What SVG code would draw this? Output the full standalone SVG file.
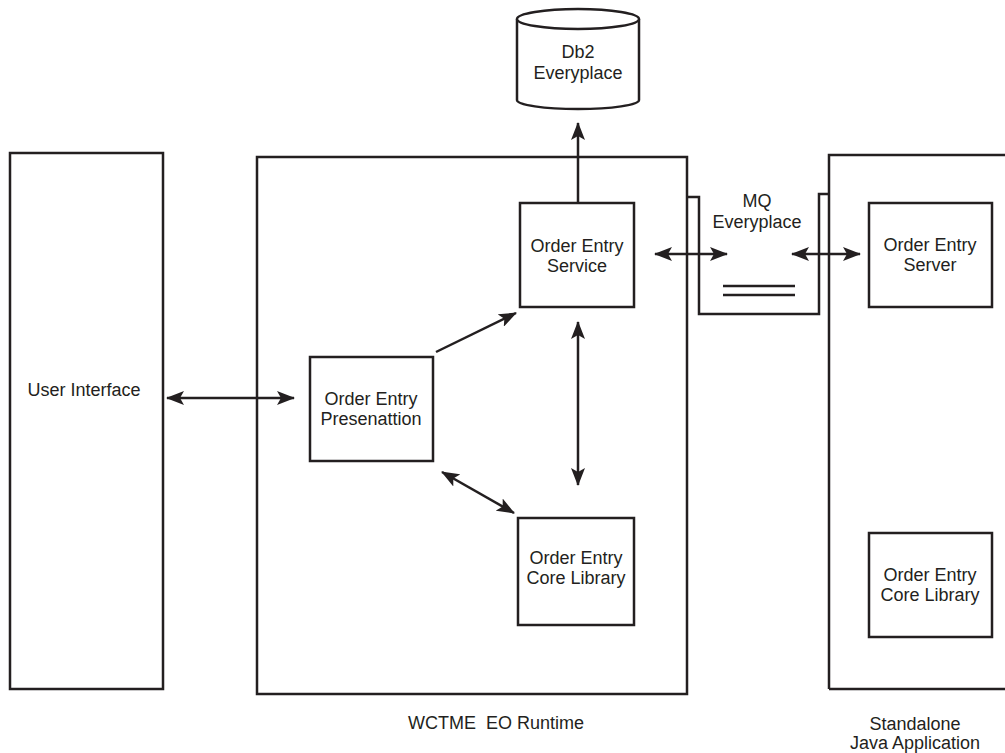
<svg xmlns="http://www.w3.org/2000/svg" width="1005" height="753" viewBox="0 0 1005 753">
<defs>
<style>
.box{fill:#fff;stroke:#231f20;stroke-width:2.5}
.ln{fill:none;stroke:#231f20;stroke-width:2.5}
.t{font-family:"Liberation Sans",Arial,sans-serif;font-size:18px;fill:#231f20;text-anchor:middle}
.c{fill:none;stroke:#231f20;stroke-width:2.5}
</style>
<marker id="ah" viewBox="0 0 18 14" refX="17" refY="7" markerWidth="18" markerHeight="14" markerUnits="userSpaceOnUse" orient="auto-start-reverse">
<path d="M0,0 L18,7 L0,14 L4,7 Z" fill="#231f20"/>
</marker>
</defs>
<rect width="1005" height="753" fill="#fff"/>
<g id="ui">
<rect class="box" x="10" y="153" width="153" height="536"/>
<text class="t" x="84" y="396">User Interface</text>
</g>
<g id="wctme">
<rect class="box" x="257" y="157" width="430" height="537"/>
<text class="t" x="496" y="729" xml:space="preserve">WCTME  EO Runtime</text>
</g>
<g id="standalone">
<path class="ln" d="M829,689 L829,155 L1010,155 M829,689 L1010,689"/>
<text class="t" x="915" y="730">Standalone</text>
<text class="t" x="915" y="749">Java Application</text>
</g>
<g id="mq">
<path class="ln" d="M687,197 L699,197 L699,314 L819,314 L819,194 L829,194"/>
<line class="ln" x1="723" y1="286" x2="795" y2="286"/>
<line class="ln" x1="723" y1="295" x2="795" y2="295"/>
<text class="t" x="757" y="207">MQ</text>
<text class="t" x="757" y="228">Everyplace</text>
</g>
<g id="db2">
<path class="box" d="M517,19 L517,100 A61,9 0 0 0 639,100 L639,19"/>
<ellipse class="box" cx="578" cy="19" rx="61" ry="10"/>
<text class="t" x="578" y="58">Db2</text>
<text class="t" x="578" y="79">Everyplace</text>
</g>
<g id="service">
<rect class="box" x="520" y="203" width="114" height="104"/>
<text class="t" x="577" y="252">Order Entry</text>
<text class="t" x="577" y="272">Service</text>
</g>
<g id="presentation">
<rect class="box" x="310" y="357" width="123" height="104"/>
<text class="t" x="371" y="405">Order Entry</text>
<text class="t" x="371" y="425">Presenattion</text>
</g>
<g id="corelib">
<rect class="box" x="518" y="518" width="116" height="107"/>
<text class="t" x="576" y="564">Order Entry</text>
<text class="t" x="576" y="584">Core Library</text>
</g>
<g id="server">
<rect class="box" x="869" y="203" width="123" height="104"/>
<text class="t" x="930" y="251">Order Entry</text>
<text class="t" x="930" y="271">Server</text>
</g>
<g id="corelib2">
<rect class="box" x="869" y="533" width="123" height="104"/>
<text class="t" x="930" y="581">Order Entry</text>
<text class="t" x="930" y="601">Core Library</text>
</g>
<g id="connectors">
<line class="c" x1="167" y1="398" x2="294" y2="398" marker-start="url(#ah)" marker-end="url(#ah)"/>
<line class="c" x1="578" y1="203" x2="578" y2="123" marker-end="url(#ah)"/>
<line class="c" x1="436" y1="352" x2="516" y2="313" marker-end="url(#ah)"/>
<line class="c" x1="578" y1="322" x2="578" y2="485" marker-start="url(#ah)" marker-end="url(#ah)"/>
<line class="c" x1="442" y1="472" x2="514" y2="513" marker-start="url(#ah)" marker-end="url(#ah)"/>
<line class="c" x1="655" y1="254" x2="727" y2="254" marker-start="url(#ah)" marker-end="url(#ah)"/>
<line class="c" x1="792" y1="254" x2="860" y2="254" marker-start="url(#ah)" marker-end="url(#ah)"/>
</g>
</svg>
